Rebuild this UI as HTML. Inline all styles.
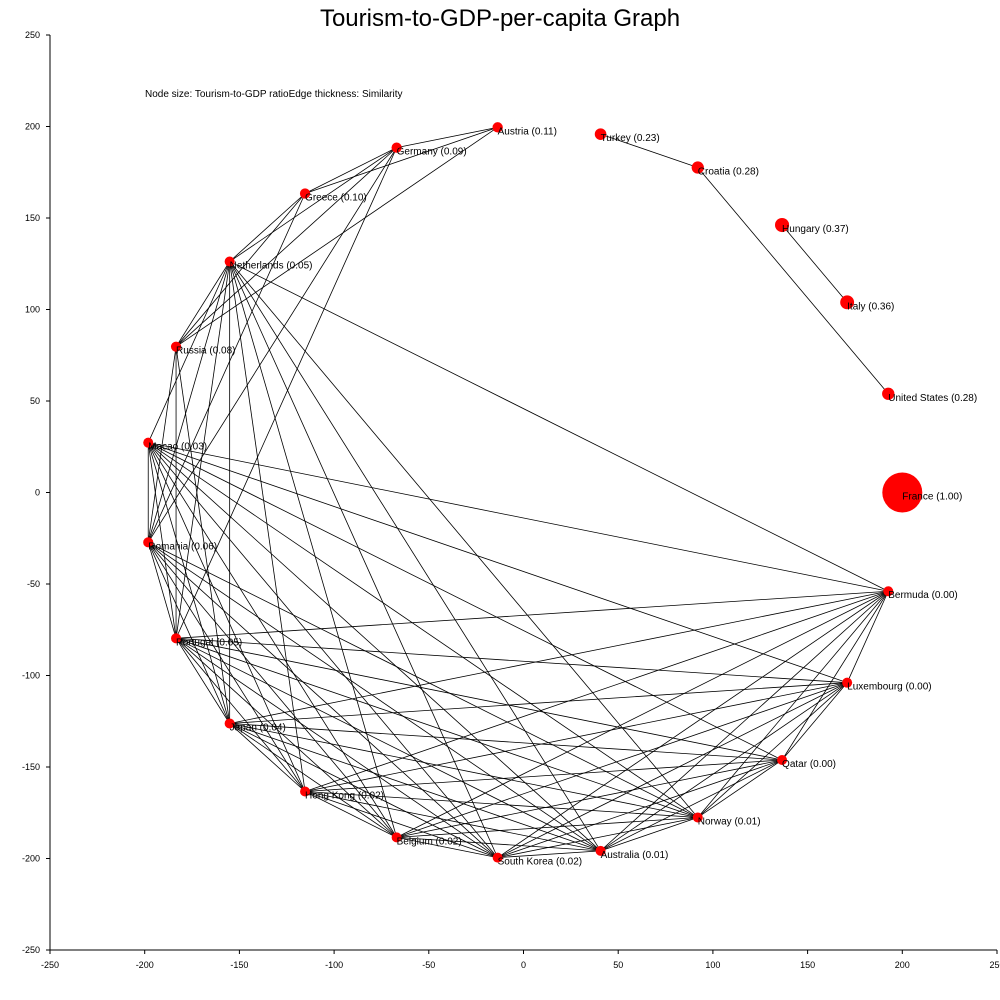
<!DOCTYPE html>
<html><head><meta charset="utf-8"><style>
body{margin:0;background:#fff;}
svg{display:block;font-family:"Liberation Sans",sans-serif;}
</style></head><body>
<svg id="chart" width="1000" height="1000">
<text x="500" y="26" text-anchor="middle" font-size="24">Tourism-to-GDP-per-capita Graph</text>
<text x="145" y="97" font-size="10">Node size: Tourism-to-GDP ratioEdge thickness: Similarity</text>
<g id="axes"></g><g id="edges"></g><g id="nodes"></g>
</svg>
<script>
const countries = ["France","United States","Italy","Hungary","Croatia","Turkey","Austria","Germany","Greece","Netherlands","Russia","Macao","Romania","Portugal","Japan","Hong Kong","Belgium","South Korea","Australia","Norway","Qatar","Luxembourg","Bermuda"];
const ratios = [1.00,0.28,0.36,0.37,0.276,0.23,0.11,0.09,0.098,0.052,0.08,0.03,0.058,0.048,0.04,0.02,0.02,0.02,0.01,0.01,0.00,0.002,0.004];
const xTicks = [-250,-200,-150,-100,-50,0,50,100,150,200,250];
const yTicks = [-250,-200,-150,-100,-50,0,50,100,150,200,250];
const threshold = 0.049;

const NS="http://www.w3.org/2000/svg";
const sx = v => 523.5 + v*1.894;
const sy = v => 492.5 - v*1.83;
function mk(tag, attrs, parent){const e=document.createElementNS(NS,tag);for(const k in attrs)e.setAttribute(k,attrs[k]);parent.appendChild(e);return e;}
const axes=document.getElementById('axes'), eg=document.getElementById('edges'), ng=document.getElementById('nodes');
let l=mk('line',{x1:50,y1:35,x2:50,y2:950,stroke:'#000'},axes);


l=mk('line',{x1:50,y1:950,x2:997,y2:950,stroke:'#000'},axes);


xTicks.forEach(t=>{
  mk('line',{x1:sx(t),y1:950,x2:sx(t),y2:954,stroke:'#000'},axes);
  const tx=mk('text',{x:sx(t),y:968,'font-size':9,'text-anchor':'middle'},axes);tx.textContent=t;
  
  
});
yTicks.forEach(t=>{
  mk('line',{x1:46,y1:sy(t),x2:50,y2:sy(t),stroke:'#000'},axes);
  const tx=mk('text',{x:40,y:sy(t)+3,'font-size':9,'text-anchor':'end'},axes);tx.textContent=t;
  
  
});
const n=countries.length;
const pos=countries.map((c,i)=>{const a=i*2*Math.PI/n;return [sx(200*Math.cos(a)),sy(200*Math.sin(a))];});
for(let i=0;i<n;i++)for(let j=i+1;j<n;j++){
  if(Math.abs(ratios[i]-ratios[j])<threshold){
    const e=mk('line',{x1:pos[i][0],y1:pos[i][1],x2:pos[j][0],y2:pos[j][1],stroke:'#000','stroke-width':0.8},eg);
    
    
  }
}
countries.forEach((c,i)=>{
  const r=5+15*ratios[i]*ratios[i];
  const ci=mk('circle',{cx:pos[i][0],cy:pos[i][1],r:r,fill:'#ff0000'},ng);
  
  
  const tx=mk('text',{x:pos[i][0],y:pos[i][1]+7,'font-size':10},ng);
  tx.textContent=c+' ('+ratios[i].toFixed(2)+')';
  
  
});
</script>
</body></html>
